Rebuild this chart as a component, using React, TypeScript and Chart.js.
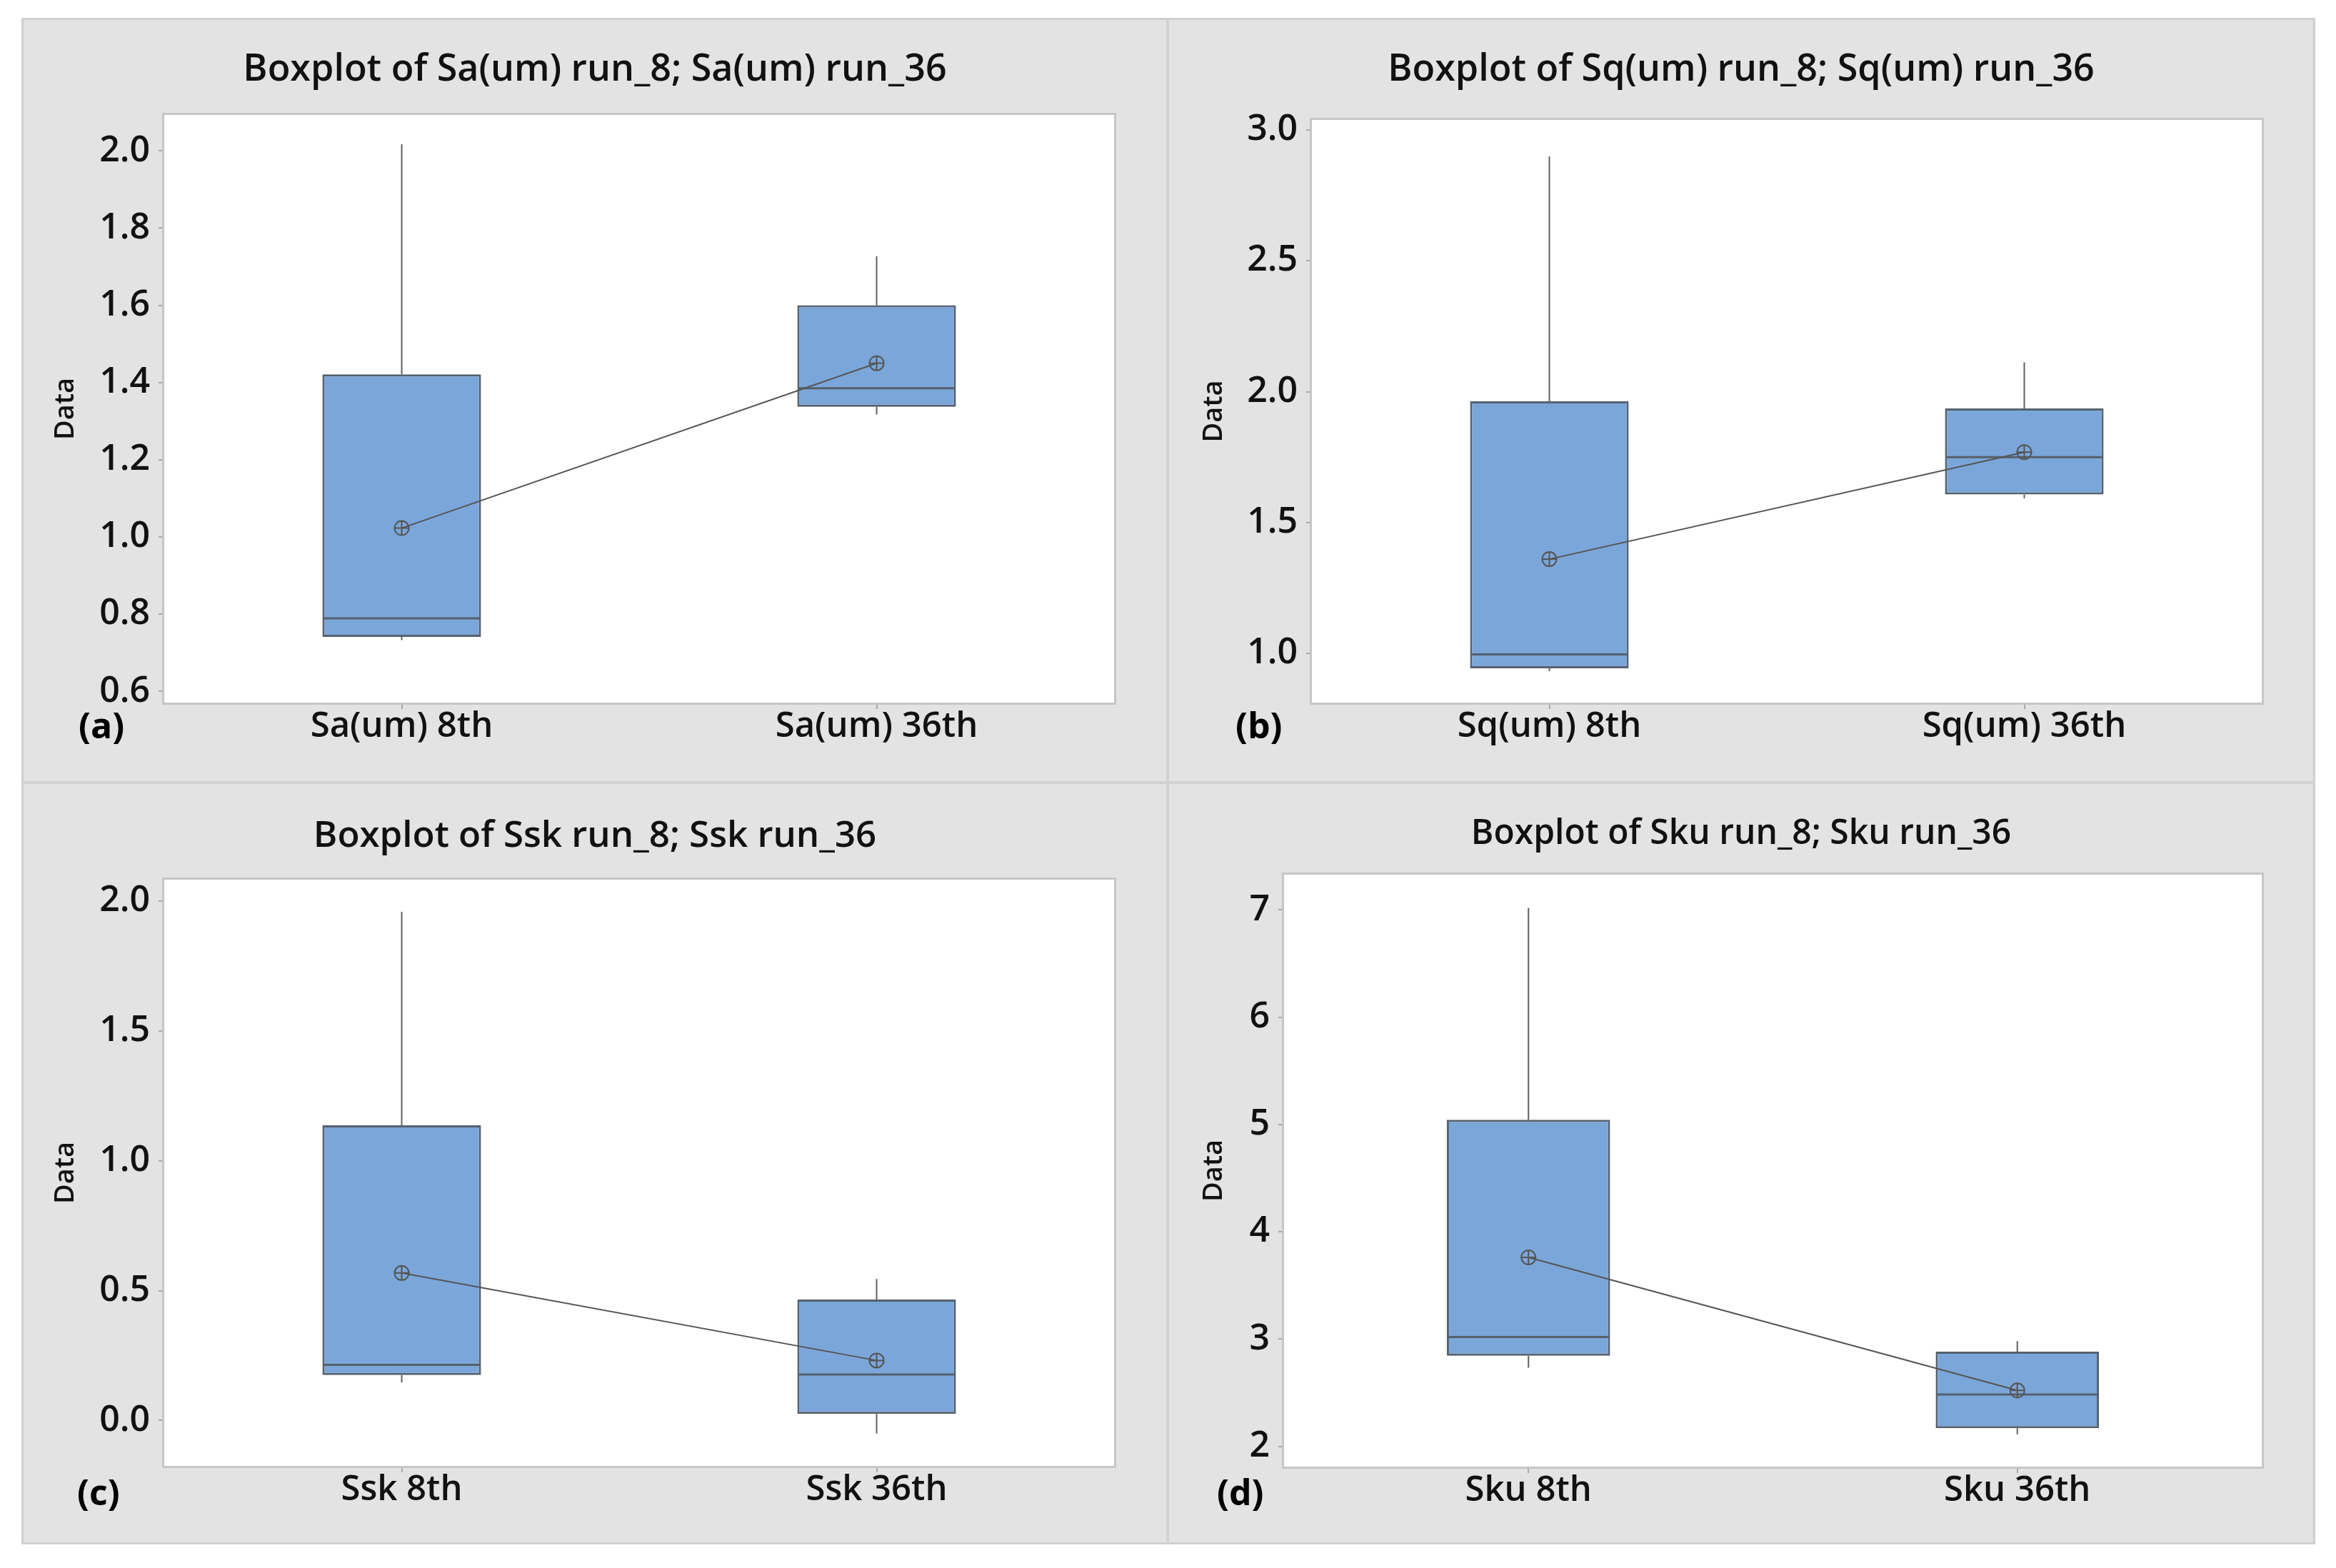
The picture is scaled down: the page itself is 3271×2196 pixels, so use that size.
import React, { useEffect, useRef } from 'react';
import { Chart, registerables } from 'chart.js';

Chart.register(...registerables);

// ---------- Data ----------
// Panel (a)
const titleA = 'Boxplot of Sa(um) run_8; Sa(um) run_36';
const categoriesA = ['Sa(um) 8th', 'Sa(um) 36th'];
const lowA = [0.733, 1.317];
const q1A = [0.741, 1.337];
const medianA = [0.789, 1.385];
const q3A = [1.421, 1.6];
const highA = [2.017, 1.727];
const meanA = [1.023, 1.45];

// Panel (b)
const titleB = 'Boxplot of Sq(um) run_8; Sq(um) run_36';
const categoriesB = ['Sq(um) 8th', 'Sq(um) 36th'];
const lowB = [0.933, 1.592];
const q1B = [0.943, 1.607];
const medianB = [0.996, 1.75];
const q3B = [1.963, 1.936];
const highB = [2.899, 2.112];
const meanB = [1.36, 1.769];

// Panel (c)
const titleC = 'Boxplot of Ssk run_8; Ssk run_36';
const categoriesC = ['Ssk 8th', 'Ssk 36th'];
const lowC = [0.147, -0.05];
const q1C = [0.175, 0.025];
const medianC = [0.214, 0.177];
const q3C = [1.137, 0.466];
const highC = [1.959, 0.545];
const meanC = [0.568, 0.231];

// Panel (d)
const titleD = 'Boxplot of Sku run_8; Sku run_36';
const categoriesD = ['Sku 8th', 'Sku 36th'];
const lowD = [2.733, 2.113];
const q1D = [2.846, 2.169];
const medianD = [3.02, 2.484];
const q3D = [5.045, 2.883];
const highD = [7.02, 2.982];
const meanD = [3.762, 2.522];

// Axis ranges / ticks
const yRangeA = [0.571, 2.093];
const yRangeB = [0.812, 3.038];
const yRangeC = [-0.175, 2.083];
const yRangeD = [1.812, 7.329];
const yStepA = 0.2;
const yStepB = 0.5;
const yStepC = 0.5;
const yStepD = 1;
const yDecimalsA = 1;
const yDecimalsB = 1;
const yDecimalsC = 1;
const yDecimalsD = 0;
const panelTags = ['(a)', '(b)', '(c)', '(d)'];
const yAxisTitle = 'Data';

// ---------- Layout (pixels, styles) ----------
const FONT = '"Open Sans", "Noto Sans", sans-serif';
const layouts = [
  { left: 33, top: 28, w: 1600, h: 1066, L: 197, R: 1527, T: 133, B: 956, titleC: 70, titleSize: 52, dataX: 59, tagX: 77, tagY: 992 },
  { left: 1637, top: 28, w: 1602, h: 1066, L: 200, R: 1530, T: 140, B: 956, titleC: 70, titleSize: 52, dataX: 63, tagX: 93, tagY: 992 },
  { left: 33, top: 1098, w: 1600, h: 1062, L: 197, R: 1527, T: 134, B: 955, titleC: 73, titleSize: 51, dataX: 59, tagX: 75, tagY: 996 },
  { left: 1637, top: 1098, w: 1602, h: 1062, L: 161, R: 1530, T: 127, B: 956, titleC: 70, titleSize: 48, dataX: 63, tagX: 67, tagY: 996 },
];

const panels = [
  { title: titleA, cats: categoriesA, low: lowA, q1: q1A, med: medianA, q3: q3A, high: highA, mean: meanA, range: yRangeA, step: yStepA, dec: yDecimalsA },
  { title: titleB, cats: categoriesB, low: lowB, q1: q1B, med: medianB, q3: q3B, high: highB, mean: meanB, range: yRangeB, step: yStepB, dec: yDecimalsB },
  { title: titleC, cats: categoriesC, low: lowC, q1: q1C, med: medianC, q3: q3C, high: highC, mean: meanC, range: yRangeC, step: yStepC, dec: yDecimalsC },
  { title: titleD, cats: categoriesD, low: lowD, q1: q1D, med: medianD, q3: q3D, high: highD, mean: meanD, range: yRangeD, step: yStepD, dec: yDecimalsD },
];

const TICK_SIZE = 50;
const XLABEL_SIZE = 49;
const DATA_SIZE = 38;
const TAG_SIZE = 50;
const TEXT_WEIGHT = '600';

function makePlugin(p: any, g: any, tag: string) {
  return {
    id: 'boxExtras',
    beforeDraw(chart: any) {
      const { ctx, chartArea: a } = chart;
      ctx.save();
      ctx.fillStyle = '#ffffff';
      ctx.fillRect(a.left, a.top, a.right - a.left, a.bottom - a.top);
      ctx.restore();
    },
    beforeDatasetsDraw(chart: any) {
      const { ctx } = chart;
      const y = chart.scales.y;
      const meta = chart.getDatasetMeta(0);
      ctx.save();
      ctx.strokeStyle = '#606060';
      ctx.lineWidth = 2;
      meta.data.forEach((bar: any, i: number) => {
        const x = bar.x;
        ctx.beginPath();
        ctx.moveTo(x, y.getPixelForValue(p.high[i]));
        ctx.lineTo(x, y.getPixelForValue(p.q3[i]));
        ctx.moveTo(x, y.getPixelForValue(p.q1[i]));
        ctx.lineTo(x, y.getPixelForValue(p.low[i]));
        ctx.stroke();
      });
      ctx.restore();
    },
    afterDatasetDraw(chart: any, args: any) {
      if (args.index !== 0) return;
      const { ctx } = chart;
      const y = chart.scales.y;
      const meta = chart.getDatasetMeta(0);
      ctx.save();
      ctx.strokeStyle = '#56606c';
      ctx.lineWidth = 3;
      meta.data.forEach((bar: any, i: number) => {
        const half = bar.width / 2 - 1;
        const py = y.getPixelForValue(p.med[i]);
        ctx.beginPath();
        ctx.moveTo(bar.x - half, py);
        ctx.lineTo(bar.x + half, py);
        ctx.stroke();
      });
      ctx.restore();
    },
    afterDraw(chart: any) {
      const { ctx, chartArea: a } = chart;
      ctx.save();
      ctx.strokeStyle = '#c6c6c6';
      ctx.lineWidth = 3;
      ctx.strokeRect(a.left - 1.5, a.top - 1.5, a.right - a.left + 3, a.bottom - a.top + 3);
      // chart title, centred on the whole panel
      ctx.fillStyle = '#111111';
      ctx.font = `${TEXT_WEIGHT} ${g.titleSize}px ${FONT}`;
      ctx.textBaseline = 'middle';
      ctx.textAlign = 'center';
      ctx.fillText(p.title, g.w / 2, g.titleC);
      // panel tag
      ctx.fillStyle = '#000000';
      ctx.font = `bold ${TAG_SIZE}px ${FONT}`;
      ctx.textAlign = 'left';
      ctx.fillText(tag, g.tagX, g.tagY);
      ctx.restore();
    },
  };
}

function Panel({ idx }: { idx: number }) {
  const ref = useRef<HTMLCanvasElement>(null);
  const p = panels[idx];
  const g = layouts[idx];
  useEffect(() => {
    const chart = new Chart(ref.current as HTMLCanvasElement, {
      type: 'bar',
      data: {
        labels: p.cats,
        datasets: [
          {
            type: 'bar',
            data: p.q1.map((v: number, i: number) => [v, p.q3[i]]) as any,
            backgroundColor: '#7ba6d9',
            borderColor: '#56616e',
            borderWidth: 3,
            borderSkipped: false,
            barPercentage: 1,
            categoryPercentage: 0.334,
            order: 3,
          } as any,
          {
            type: 'line',
            data: p.mean,
            borderColor: '#555555',
            borderWidth: 2,
            pointStyle: 'circle',
            pointRadius: 10,
            pointBorderWidth: 2,
            pointBorderColor: '#555555',
            pointBackgroundColor: 'rgba(0,0,0,0)',
            order: 2,
          } as any,
          {
            type: 'line',
            data: p.mean,
            showLine: false,
            pointStyle: 'cross',
            pointRadius: 10,
            pointBorderWidth: 2,
            pointBorderColor: '#555555',
            order: 1,
          } as any,
        ],
      },
      options: {
        animation: false,
        responsive: false,
        devicePixelRatio: 1,
        layout: { padding: { left: 0, top: g.T, bottom: 0, right: g.w - g.R } },
        plugins: {
          legend: { display: false },
          tooltip: { enabled: false },
          title: { display: false },
        },
        scales: {
          x: {
            type: 'category',
            offset: true,
            border: { display: false },
            grid: { drawOnChartArea: false, drawTicks: true, tickLength: 9, color: '#a8a8a8', lineWidth: 2, offset: false },
            ticks: { color: '#111111', padding: 1, font: { family: FONT, size: XLABEL_SIZE, weight: TEXT_WEIGHT, lineHeight: 1.0 } },
            afterFit: (s: any) => { s.height = g.h - g.B; },
          },
          y: {
            type: 'linear',
            min: p.range[0],
            max: p.range[1],
            border: { display: false },
            grid: { drawOnChartArea: false, drawTicks: true, tickLength: 8, color: '#a8a8a8', lineWidth: 2 },
            ticks: {
              stepSize: p.step,
              includeBounds: false,
              color: '#111111',
              padding: 12,
              font: { family: FONT, size: TICK_SIZE, weight: TEXT_WEIGHT, lineHeight: 1.0 },
              callback: (v: any) => Number(v).toFixed(p.dec),
            },
            title: {
              display: true,
              text: yAxisTitle,
              color: '#111111',
              font: { family: FONT, size: DATA_SIZE, weight: TEXT_WEIGHT, lineHeight: 1.2 },
              padding: { top: g.dataX - (DATA_SIZE * 1.2) / 2, bottom: 0 },
            },
            afterFit: (s: any) => { s.width = g.L; },
          },
        },
      } as any,
      plugins: [makePlugin(p, g, panelTags[idx]) as any],
    });
    return () => chart.destroy();
  }, []);
  return (
    <canvas
      ref={ref}
      width={g.w}
      height={g.h}
      style={{ position: 'absolute', left: g.left, top: g.top, width: g.w, height: g.h }}
    />
  );
}

export default function App() {
  return (
    <div style={{ position: 'absolute', left: 0, top: 0, width: 3271, height: 2196, background: '#ffffff', overflow: 'hidden' }}>
      <div
        style={{
          position: 'absolute', left: 30, top: 25, width: 3212, height: 2138,
          background: '#e3e3e3', border: '3px solid #cfcfcf', boxSizing: 'border-box',
        }}
      />
      <div style={{ position: 'absolute', left: 1633, top: 25, width: 4, height: 2138, background: '#d2d2d2' }} />
      <div style={{ position: 'absolute', left: 30, top: 1094, width: 3212, height: 4, background: '#d2d2d2' }} />
      {[0, 1, 2, 3].map((i) => (
        <Panel key={i} idx={i} />
      ))}
    </div>
  );
}
